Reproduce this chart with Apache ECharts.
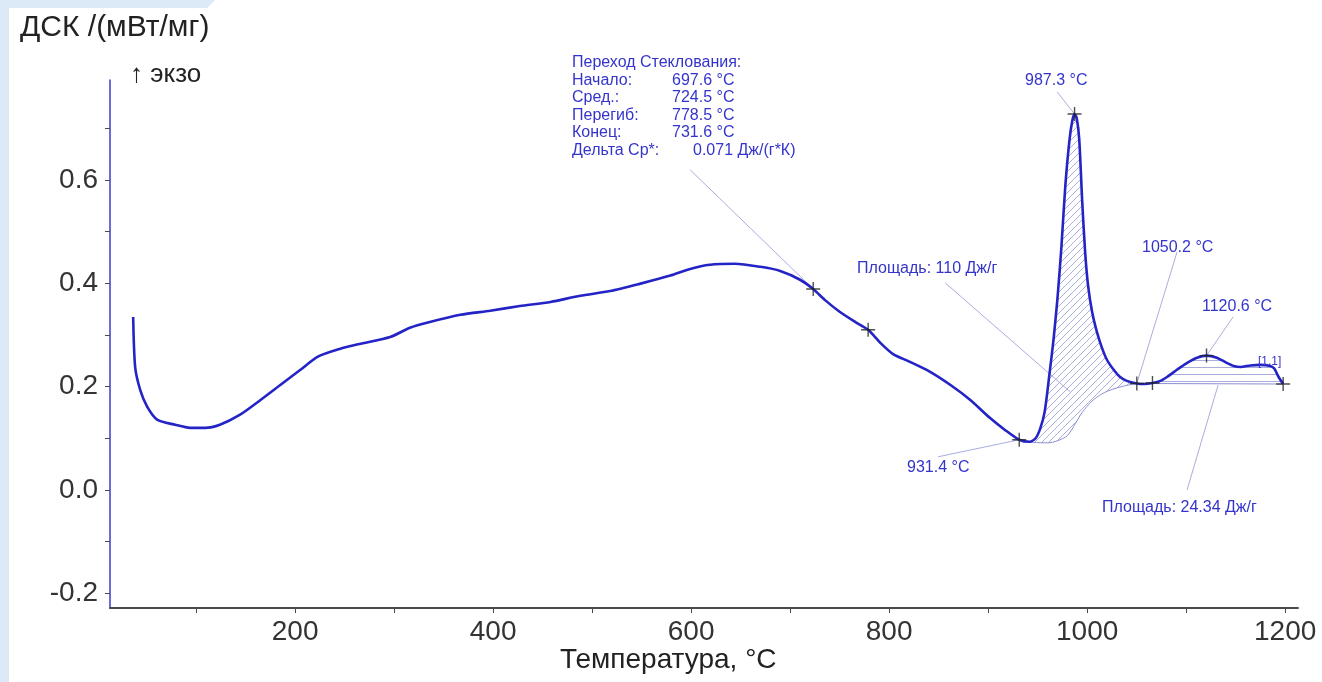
<!DOCTYPE html>
<html>
<head>
<meta charset="utf-8">
<script src="https://cdn.jsdelivr.net/npm/echarts@6/dist/echarts.min.js"></script>
<style>
  html, body { margin: 0; padding: 0; background: #fff; }
  #main { width: 1322px; height: 682px; }
</style>
</head>
<body>
<div id="main"></div>
<script>
// кривая ДСК: температура, °C и сигнал, мВт/мг
var temps = [36.4, 38.4, 43.4, 50.5, 60.6, 78.8, 93.9, 109, 124, 144, 165, 185, 205, 223, 245, 266, 296, 316, 336, 367,
  397, 427, 458, 488, 518, 548, 579, 599, 619, 644, 670, 690, 710, 723.3, 735, 750, 766, 778.8, 791, 804,
  821, 841, 862, 882, 902, 917, 931.4, 942, 948, 952.5, 957, 962, 966, 970, 974, 978, 982, 985, 987.3, 989.5,
  992, 995, 998, 1001, 1005, 1010, 1015, 1020, 1027, 1033, 1040, 1050.2, 1058, 1066, 1074, 1081, 1091, 1101, 1111, 1120.6,
  1131, 1141, 1148, 1155, 1165, 1175, 1185, 1189, 1193, 1198];
var dsc = [0.335, 0.238, 0.194, 0.161, 0.136, 0.126, 0.120, 0.120, 0.126, 0.145, 0.174, 0.203, 0.232, 0.258, 0.273, 0.283, 0.296, 0.314, 0.325, 0.339,
  0.347, 0.356, 0.364, 0.376, 0.385, 0.399, 0.415, 0.428, 0.436, 0.438, 0.432, 0.424, 0.407, 0.389, 0.368, 0.345, 0.325, 0.310, 0.285, 0.263,
  0.248, 0.229, 0.203, 0.174, 0.139, 0.116, 0.097, 0.093, 0.100, 0.118, 0.150, 0.225, 0.290, 0.370, 0.470, 0.590, 0.675, 0.715, 0.728, 0.720,
  0.680, 0.560, 0.460, 0.395, 0.345, 0.305, 0.275, 0.252, 0.232, 0.219, 0.211, 0.206, 0.205, 0.207, 0.211, 0.219, 0.233, 0.246, 0.256, 0.260,
  0.256, 0.246, 0.240, 0.238, 0.241, 0.242, 0.240, 0.235, 0.220, 0.205];

// базовые линии пиков
var base1T = [931.4, 945, 960, 970, 980, 988, 995, 1005, 1015, 1026, 1037, 1050.2];
var base1V = [0.097, 0.092, 0.091, 0.095, 0.105, 0.128, 0.150, 0.172, 0.186, 0.195, 0.201, 0.206];
var base2T = [1050.2, 1198];
var base2V = [0.206, 0.205];

// отметки "+"
var markT = [723.3, 778.8, 931.4, 987.3, 1050.2, 1066, 1120.6, 1198];
var markV = [0.389, 0.310, 0.097, 0.728, 0.206, 0.207, 0.260, 0.205];

var xLabels = [200, 400, 600, 800, 1000, 1200];
var xTicks = [100, 200, 300, 400, 500, 600, 700, 800, 900, 1000, 1100, 1200];
var yLabels = [-0.2, 0, 0.2, 0.4, 0.6];
var yTicks = [-0.2, -0.1, 0, 0.1, 0.2, 0.3, 0.4, 0.5, 0.6, 0.7];

// выноски к подписям
var leaders = [
  [[599, 0.620], [723.3, 0.389]],
  [[969.7, 0.771], [987.3, 0.728]],
  [[849.5, 0.064], [931.4, 0.097]],
  [[856.6, 0.401], [982.8, 0.190]],
  [[1090.9, 0.461], [1050.2, 0.206]],
  [[1147.5, 0.335], [1120.6, 0.260]],
  [[1101, 0.0], [1132.3, 0.203]]
];

var blue = '#3434cc';
var font = '"Liberation Sans", Arial, sans-serif';

function zip(a, b) {
  return a.map(function (v, i) { return [v, b[i]]; });
}

function hatch(kind) {
  var c = document.createElement('canvas');
  c.width = 7; c.height = 7;
  var g = c.getContext('2d');
  g.strokeStyle = 'rgba(110,118,200,0.6)';
  g.lineWidth = 1;
  g.beginPath();
  if (kind === 'diag') {
    g.moveTo(0, 7); g.lineTo(7, 0);
    g.moveTo(-1, 1); g.lineTo(1, -1);
    g.moveTo(6, 8); g.lineTo(8, 6);
  } else {
    g.moveTo(0, 3.5); g.lineTo(7, 3.5);
  }
  g.stroke();
  return c;
}

function areaBetween(t0, t1, bt, bv, pattern) {
  var upper = zip(temps, dsc).filter(function (p) { return p[0] >= t0 && p[0] <= t1; });
  var lower = zip(bt, bv).reverse();
  return {
    type: 'custom',
    silent: true,
    z: 1,
    data: [[t0, 0]],
    renderItem: function (params, api) {
      var pts = upper.concat(lower).map(function (p) { return api.coord(p); });
      return {
        type: 'polygon',
        shape: { points: pts },
        style: { fill: { image: pattern, repeat: 'repeat' }, stroke: null }
      };
    }
  };
}

function txt(x, y, s, size, color) {
  return {
    type: 'text', x: x, y: y, z: 10,
    style: { text: s, fill: color || blue, font: (size || 16) + 'px ' + font, verticalAlign: 'middle' }
  };
}

var chart = echarts.init(document.getElementById('main'));

var series = [
  areaBetween(931.4, 1050.2, base1T, base1V, hatch('diag')),
  areaBetween(1066, 1198, [1066, 1198], [0.207, 0.205], hatch('horiz')),
  {
    type: 'line', data: zip(base1T, base1V), smooth: 0.3, symbol: 'none', z: 2, silent: true,
    lineStyle: { color: '#8a90d0', width: 1 }
  },
  {
    type: 'line', data: zip(base2T, base2V), symbol: 'none', z: 2, silent: true,
    lineStyle: { color: '#8a90d0', width: 1 }
  },
  {
    type: 'line', data: zip(temps, dsc), smooth: 0.25, symbol: 'none', z: 5,
    lineStyle: { color: '#2323c6', width: 2.6 }
  },
  {
    type: 'scatter', data: zip(markT, markV), z: 6, silent: true,
    symbol: 'path://M6.3,0H7.7V14H6.3ZM0,6.3H14V7.7H0Z', symbolSize: 14,
    itemStyle: { color: '#222' }
  }
];
leaders.forEach(function (seg) {
  series.push({
    type: 'line', data: seg, symbol: 'none', z: 3, silent: true,
    lineStyle: { color: '#a9aee0', width: 1 }
  });
});

var option = {
  backgroundColor: '#ffffff',
  animation: false,
  grid: { left: 110, right: 24, top: 80, bottom: 74 },
  xAxis: {
    type: 'value', min: 13, max: 1213,
    axisLine: { show: true, onZero: false, lineStyle: { color: '#4a4a4a', width: 2 } },
    axisTick: { show: true, customValues: xTicks, length: 5, lineStyle: { color: '#4a4a4a' } },
    axisLabel: {
      customValues: xLabels, fontSize: 28, color: '#333', margin: 10, fontFamily: font,
      formatter: function (v) { return String(v); }
    },
    splitLine: { show: false }
  },
  yAxis: {
    type: 'value', min: -0.229, max: 0.794,
    axisLine: { show: true, onZero: false, lineStyle: { color: '#3a3ad0', width: 1.5 } },
    axisTick: { show: true, customValues: yTicks, length: 5, lineStyle: { color: '#4a4a4a' } },
    axisLabel: {
      customValues: yLabels, fontSize: 28, color: '#333', margin: 12, fontFamily: font,
      formatter: function (v) { return v.toFixed(1); }
    },
    splitLine: { show: false }
  },
  graphic: [
    { type: 'rect', shape: { x: 0, y: 0, width: 9, height: 682 }, style: { fill: '#dce9f6' }, z: 0 },
    { type: 'polygon', shape: { points: [[0, 0], [215, 0], [207, 8], [0, 8]] }, style: { fill: '#dce9f6' }, z: 0 },
    txt(20, 28, 'ДСК /(мВт/мг)', 30, '#222'),
    txt(130, 75, '↑ экзо', 26, '#222'),
    txt(560, 660, 'Температура, °C', 28, '#222'),
    txt(572, 63, 'Переход Стеклования:'),
    txt(572, 81, 'Начало:'),
    txt(672, 81, '697.6 °C'),
    txt(572, 98, 'Сред.:'),
    txt(672, 98, '724.5 °C'),
    txt(572, 116, 'Перегиб:'),
    txt(672, 116, '778.5 °C'),
    txt(572, 133, 'Конец:'),
    txt(672, 133, '731.6 °C'),
    txt(572, 151, 'Дельта Cp*:'),
    txt(693, 151, '0.071 Дж/(г*К)'),
    txt(1025, 81, '987.3 °C'),
    txt(907, 468, '931.4 °C'),
    txt(857, 269, 'Площадь: 110 Дж/г'),
    txt(1142, 248, '1050.2 °C'),
    txt(1202, 307, '1120.6 °C'),
    txt(1258, 362, '[1.1]', 12),
    txt(1102, 508, 'Площадь: 24.34 Дж/г')
  ],
  series: series
};

chart.setOption(option);
</script>
</body>
</html>
